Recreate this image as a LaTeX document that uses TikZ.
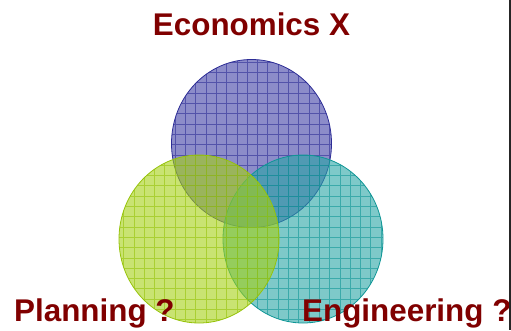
\documentclass[tikz,border=0pt]{standalone}
\usepackage{fontspec}
\setmainfont{Liberation Sans}
\usetikzlibrary{shapes.geometric}
\definecolor{labelred}{RGB}{128,0,0}
\definecolor{ecofill}{RGB}{63,63,165}
\definecolor{ecoline}{RGB}{45,45,150}
\definecolor{planfill}{RGB}{165,208,20}
\definecolor{planline}{RGB}{150,195,10}
\definecolor{engfill}{RGB}{40,165,165}
\definecolor{engline}{RGB}{15,150,150}
\begin{document}
\begin{tikzpicture}[x=1bp,y=1bp,
		setcircle/.style={ellipse,minimum width=160bp,minimum height=168bp,
		inner sep=0pt,fill opacity=0.6,line width=0.8bp},
		setgrid/.style={line width=0.7bp,opacity=0.6,step=10.3bp},
		setlabel/.style={font=\fontsize{31.5}{31.5}\selectfont\bfseries,
		text=labelred,inner sep=0pt}
		]
	\useasboundingbox (0,0) rectangle (511,330);
	% the three sets, drawn back to front
	\foreach \name/\x/\y in {eco/251.5/186.5, eng/303/91, plan/199/91}{
		\node[setcircle,fill=\name fill,draw=\name line](\name) at (\x,\y){};
		\begin{scope}
			\clip (\name.center) ellipse (80 and 84);
			\draw[setgrid,\name line] (\x-90,\y-90) grid (\x+90,\y+90);
		\end{scope}
	}
	\node[setlabel,anchor=base](ecolabel) at (eco.north |- 0,295){Economics X};
	\node[setlabel,anchor=base west](planlabel) at (14,9){Planning ?};
	\node[setlabel,anchor=base west](englabel) at (302,9){Engineering ?};
	% bar on the right edge
	\fill[black!85] (508.5,0) rectangle (511,330);
\end{tikzpicture}
\end{document}
